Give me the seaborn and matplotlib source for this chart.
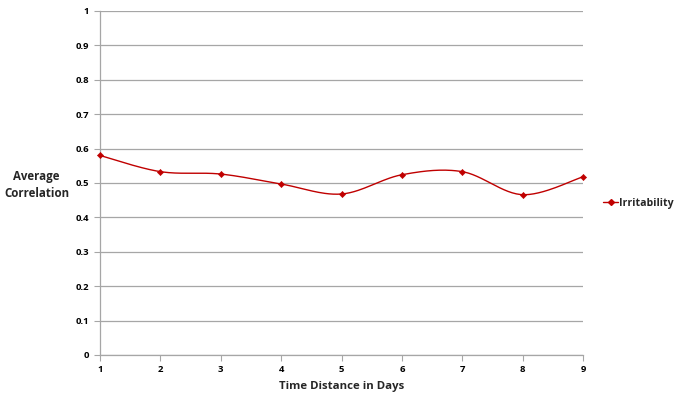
import numpy as np
import pandas as pd
import matplotlib
matplotlib.use("Agg")
import matplotlib.pyplot as plt
import seaborn as sns
from matplotlib.lines import Line2D

days = [1, 2, 3, 4, 5, 6, 7, 8, 9]
irritability = [0.580, 0.533, 0.526, 0.497, 0.468, 0.524, 0.533, 0.466, 0.518]
y_ticks = [0, 0.1, 0.2, 0.3, 0.4, 0.5, 0.6, 0.7, 0.8, 0.9, 1]
y_tick_labels = ["0", "0.1", "0.2", "0.3", "0.4", "0.5", "0.6", "0.7", "0.8", "0.9", "1"]

sns.set_theme(style="white")
plt.rcParams["font.family"] = ["Open Sans", "DejaVu Sans"]
plt.rcParams["font.weight"] = "bold"

RED = "#c00000"
GRID = "#a6a6a6"


def smooth_curve(x, y, n=30):
    """Cubic Bezier smoothing through every point (spreadsheet-style smoothed line)."""
    x = np.asarray(x, float)
    y = np.asarray(y, float)
    px = np.concatenate([[x[0]], x, [x[-1]]])
    py = np.concatenate([[y[0]], y, [y[-1]]])
    xs, ys = [], []
    t = np.linspace(0, 1, n)
    for i in range(len(x) - 1):
        p0 = np.array([x[i], y[i]])
        p3 = np.array([x[i + 1], y[i + 1]])
        c1 = p0 + (np.array([px[i + 2], py[i + 2]]) - np.array([px[i], py[i]])) / 6
        c2 = p3 - (np.array([px[i + 3], py[i + 3]]) - np.array([px[i + 1], py[i + 1]])) / 6
        pts = ((1 - t)[:, None] ** 3 * p0 + 3 * ((1 - t) ** 2 * t)[:, None] * c1
               + 3 * ((1 - t) * t ** 2)[:, None] * c2 + (t ** 3)[:, None] * p3)
        xs.extend(pts[:, 0])
        ys.extend(pts[:, 1])
    return np.array(xs), np.array(ys)


fig = plt.figure(figsize=(6.78, 3.95), dpi=100)
ax = fig.add_axes([100 / 678, 1 - 355 / 395, 483 / 678, 344 / 395])

sx, sy = smooth_curve(days, irritability)
curve = pd.DataFrame({"day": sx, "value": sy})
points = pd.DataFrame({"day": days, "value": irritability})

sns.lineplot(data=curve, x="day", y="value", ax=ax, color=RED, linewidth=1.0,
             sort=False, estimator=None, zorder=3)
sns.scatterplot(data=points, x="day", y="value", ax=ax, color=RED, marker="D",
                s=10, edgecolor=RED, linewidth=0.4, zorder=4, clip_on=False)

ax.set_xlim(1, 9)
ax.set_ylim(0, 1)
ax.set_xticks(days)
ax.set_xticklabels([str(d) for d in days], fontsize=6.8, fontweight="bold")
ax.set_yticks(y_ticks)
ax.set_yticklabels(y_tick_labels, fontsize=6.8, fontweight="bold")

ax.grid(axis="y", color=GRID, linewidth=0.9)
ax.grid(axis="x", visible=False)
ax.set_axisbelow(True)
for side in ["top", "right"]:
    ax.spines[side].set_visible(False)
for side in ["left", "bottom"]:
    ax.spines[side].set_color(GRID)
    ax.spines[side].set_linewidth(0.9)

ax.tick_params(axis="both", which="major", direction="out", length=4, width=0.8,
               color=GRID, pad=3, labelcolor="black")
ax.tick_params(axis="y", left=True, pad=4)
ax.tick_params(axis="x", bottom=True)

ax.set_xlabel("Time Distance in Days", fontsize=8.2, fontweight="bold", labelpad=5)
ax.set_ylabel("Average\nCorrelation", fontsize=8.3, fontweight="bold", rotation=0,
              ha="center", va="center", linespacing=1.45)
ax.yaxis.set_label_coords(-0.131, 0.494)

handle = Line2D([0], [0], color=RED, marker="D", markersize=3, linewidth=1.0)
leg = ax.legend([handle], ["Irritability"], loc="center left",
                bbox_to_anchor=(1.022, 0.44), frameon=False, handlelength=1.4,
                handletextpad=0.1, prop={"size": 7.6, "weight": "bold"})

fig.savefig("out.png", dpi=100)
